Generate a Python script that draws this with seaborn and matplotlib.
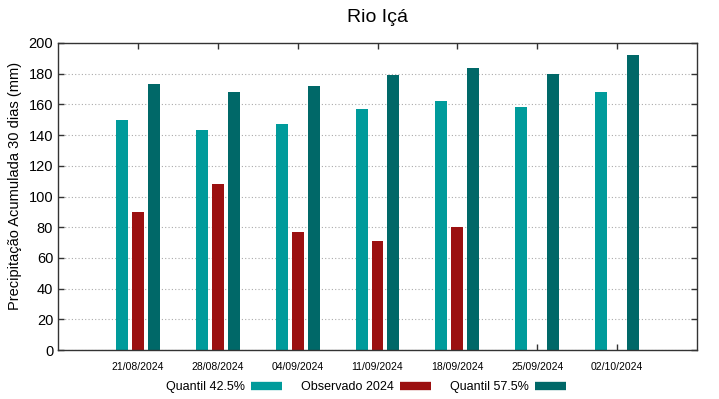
import numpy as np
import pandas as pd
import matplotlib
matplotlib.use("Agg")
import matplotlib.pyplot as plt
from matplotlib.lines import Line2D
import seaborn as sns

dates = ["21/08/2024", "28/08/2024", "04/09/2024", "11/09/2024",
         "18/09/2024", "25/09/2024", "02/10/2024"]
q425 = [150, 143, 147, 157, 162, 158, 168]
obs2024 = [90, 108, 77, 71, 80, np.nan, np.nan]
q575 = [173, 168, 172, 179, 184, 180, 192]
series = ["Quantil 42.5%", "Observado 2024", "Quantil 57.5%"]
colors = ["#009b9b", "#9b1010", "#006868"]

df = pd.DataFrame({
    "date": dates * 3,
    "value": q425 + obs2024 + q575,
    "serie": [series[0]] * 7 + [series[1]] * 7 + [series[2]] * 7,
})

sns.set_style("white")
plt.rcParams["font.family"] = ["Liberation Sans", "DejaVu Sans"]
plt.rcParams["text.color"] = "black"
plt.rcParams["axes.labelcolor"] = "black"
plt.rcParams["xtick.labelcolor"] = "black"
plt.rcParams["ytick.labelcolor"] = "black"

fig = plt.figure(figsize=(7.19, 3.99), dpi=100)
ax = fig.add_axes([58/719, 49/399, 639/719, 307/399])

sns.barplot(data=df, x="date", y="value", hue="serie", hue_order=series,
            order=dates, palette=colors, width=0.6, gap=0.25,
            errorbar=None, ax=ax, legend=False, saturation=1, linewidth=0)

ax.set_xlim(-1, 7)
ax.set_ylim(0, 200)
ax.set_yticks(range(0, 201, 20))
ax.set_xticks(range(7))
ax.set_xticklabels(dates, fontsize=7.5)
ax.tick_params(axis="y", labelsize=10.5)
ax.tick_params(direction="in", top=True, right=True, bottom=True, left=True,
               length=4, width=1, color="#333333", labelcolor="black")
ax.tick_params(axis="x", pad=9)
ax.yaxis.grid(True, linestyle=(0, (1, 2)), color="#aaaaaa", linewidth=0.8)
ax.set_axisbelow(True)
for s in ax.spines.values():
    s.set_visible(True)
    s.set_color("#333333")
    s.set_linewidth(1)
ax.set_xlabel("")
ax.set_ylabel("Precipitação Acumulada 30 dias (mm)", fontsize=10.5, color="black")
ax.yaxis.set_label_coords(-0.056, 0.534)
ax.set_title("Rio Içá", fontsize=14, pad=15, color="black")

handles = [Line2D([0], [0], color=c, linewidth=6, solid_capstyle="butt") for c in colors]
fig.legend(handles, series, loc="center", bbox_to_anchor=(366/719, 1 - 387/399),
           ncol=3, frameon=False, markerfirst=False, fontsize=9,
           handlelength=2.5, columnspacing=1.5, handletextpad=0.5,
           labelcolor="black")

fig.savefig("out.png", dpi=100)
